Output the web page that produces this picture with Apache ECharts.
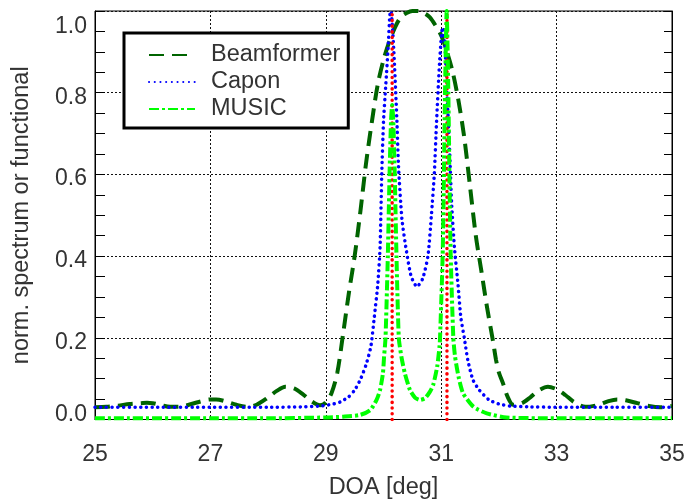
<!DOCTYPE html>
<html>
<head>
<meta charset="utf-8">
<script src="https://cdn.jsdelivr.net/npm/echarts@6/dist/echarts.min.js"></script>
<style>
  html, body { margin: 0; padding: 0; background: #fff; }
  #chart { width: 686px; height: 499px; }
</style>
</head>
<body>
<div id="chart"></div>
<script>
// Normalised spatial spectra of three DOA estimators, plus the true source directions.

const bfDoa = [25.0, 25.2, 25.4, 25.6, 25.8, 25.9, 26.0, 26.15, 26.3, 26.45, 26.6, 26.8, 27.0, 27.1, 27.25, 27.45, 27.63, 27.8, 28.0, 28.15, 28.3, 28.45, 28.6, 28.75, 28.9,
  29.0, 29.1, 29.2, 29.3, 29.4, 29.5, 29.6, 29.7, 29.8, 29.9, 30.0, 30.1, 30.2, 30.3, 30.4, 30.5, 30.6, 30.7, 30.8, 30.9, 31.0, 31.1, 31.2, 31.3, 31.4, 31.5, 31.6, 31.7, 31.8, 31.9, 31.95, 32.0, 32.07, 32.15, 32.25,
  32.4, 32.55, 32.7, 32.85, 33.0, 33.15, 33.3, 33.5, 33.7, 33.9, 34.05, 34.2, 34.4, 34.6, 34.8, 35.0];
const bfVal = [0.030, 0.031, 0.034, 0.038, 0.040, 0.041, 0.040, 0.035, 0.031, 0.031, 0.035, 0.043, 0.049, 0.049, 0.045, 0.036, 0.031, 0.036, 0.054, 0.070, 0.080, 0.076, 0.062, 0.045, 0.035,
  0.042, 0.065, 0.115, 0.21, 0.31, 0.40, 0.51, 0.63, 0.73, 0.82, 0.88, 0.925, 0.96, 0.985, 0.995, 1.0, 1.0, 0.995, 0.985, 0.965, 0.94, 0.90, 0.85, 0.78, 0.69, 0.57, 0.45, 0.36, 0.27, 0.19, 0.146, 0.115, 0.089, 0.056, 0.036,
  0.040, 0.055, 0.072, 0.080, 0.074, 0.060, 0.043, 0.031, 0.035, 0.045, 0.049, 0.047, 0.040, 0.033, 0.030, 0.033];

const caponDoa = [25.0, 26.0, 27.0, 28.0, 28.6, 28.9, 29.1, 29.25, 29.4, 29.5, 29.6, 29.7, 29.78, 29.84, 29.9, 29.94, 29.97, 30.0, 30.04, 30.08, 30.11, 30.13, 30.15, 30.18, 30.23, 30.26, 30.32, 30.4, 30.48, 30.58, 30.68, 30.77, 30.83, 30.88, 30.92, 30.97, 31.01, 31.03, 31.06, 31.1, 31.14, 31.18, 31.23, 31.29, 31.34, 31.4, 31.46, 31.55, 31.66, 31.83, 32.0, 32.2, 32.5, 33.0, 34.0, 35.0];
const caponVal = [0.030, 0.030, 0.030, 0.030, 0.031, 0.033, 0.037, 0.043, 0.056, 0.072, 0.098, 0.135, 0.178, 0.25, 0.33, 0.42, 0.60, 0.73, 0.82, 0.91, 0.99, 1.0, 0.97, 0.90, 0.74, 0.62, 0.49, 0.41, 0.35, 0.325, 0.345, 0.40, 0.50, 0.60, 0.73, 0.87, 0.95, 0.96, 0.93, 0.80, 0.68, 0.53, 0.42, 0.333, 0.25, 0.20, 0.146, 0.097, 0.072, 0.048, 0.038, 0.033, 0.031, 0.030, 0.030, 0.030];

const musicDoa = [25.0, 27.0, 28.0, 29.0, 29.3, 29.59, 29.77, 29.88, 29.94, 29.99, 30.01, 30.035, 30.075, 30.105, 30.13, 30.15, 30.17, 30.195, 30.225, 30.265, 30.31, 30.37, 30.46, 30.55, 30.63, 30.72, 30.8, 30.86, 30.93, 30.97, 30.98, 31.025, 31.048, 31.066, 31.095, 31.124, 31.142, 31.165, 31.21, 31.24, 31.3, 31.38, 31.56, 31.79, 32.13, 33.0, 34.0, 35.0];
const musicVal = [0.003, 0.003, 0.003, 0.005, 0.007, 0.011, 0.023, 0.048, 0.072, 0.113, 0.154, 0.2, 0.4, 0.6, 0.73, 0.77, 0.73, 0.6, 0.4, 0.2, 0.154, 0.113, 0.072, 0.053, 0.048, 0.052, 0.067, 0.084, 0.129, 0.178, 0.2, 0.4, 0.6, 0.8, 1.0, 0.8, 0.6, 0.4, 0.2, 0.154, 0.105, 0.064, 0.031, 0.015, 0.005, 0.003, 0.003, 0.003];

// True directions of arrival (deg)
const trueDoa = [30.15, 31.10];

const xTicks = [25, 27, 29, 31, 33, 35];
const yTicks = [0.0, 0.2, 0.4, 0.6, 0.8, 1.0];

const FONT = '"Liberation Sans", Arial, Helvetica, sans-serif';
const TXT = '#333';
const FS = 23.5;

const pairs = (xs, ys) => xs.map((x, i) => [x, ys[i]]);

const trueSeries = trueDoa.map((d, i) => ({
  name: 'true' + i,
  type: 'line',
  data: [[d, yTicks[0]], [d, yTicks[yTicks.length - 1]]],
  symbol: 'none',
  silent: true,
  z: 3,
  lineStyle: { color: '#ff0000', width: 3.5, type: [0.1, 5.6], cap: 'round' }
}));

const chart = echarts.init(document.getElementById('chart'), null, { renderer: 'canvas' });
chart.setOption({
  animation: false,
  backgroundColor: '#fff',
  grid: {
    left: 95, right: 14, top: 11, bottom: 79.5,
    show: true, borderColor: '#000', borderWidth: 1,
    containLabel: false, outerBoundsMode: 'none'
  },
  legend: {
    data: ['Beamformer', 'Capon', 'MUSIC'],
    orient: 'vertical',
    left: 124, top: 33,
    padding: [10, 8, 7, 24],
    itemWidth: 46, itemHeight: 14, itemGap: 3,
    itemStyle: { opacity: 0 },
    borderColor: '#000', borderWidth: 3, borderRadius: 0,
    backgroundColor: '#fff',
    textStyle: { fontFamily: FONT, fontSize: FS, color: TXT, lineHeight: 22, padding: [0, 0, 0, 11] }
  },
  xAxis: {
    type: 'value', min: xTicks[0], max: xTicks[xTicks.length - 1], interval: 2,
    name: 'DOA [deg]', nameLocation: 'middle', nameGap: 56,
    nameTextStyle: { fontFamily: FONT, fontSize: FS, color: TXT },
    axisLine: { show: true, lineStyle: { color: '#000', width: 1 } },
    axisTick: { show: false },
    axisLabel: { fontFamily: FONT, fontSize: 23, color: TXT, margin: 24, formatter: v => String(v) },
    splitLine: { show: true, lineStyle: { color: '#111', width: 1, type: [2, 2] } }
  },
  yAxis: [
    {
      type: 'value', min: 0, max: 1, interval: 0.2, position: 'left',
      name: 'norm. spectrum or functional', nameLocation: 'middle', nameGap: 61,
      nameTextStyle: { fontFamily: FONT, fontSize: FS, color: TXT },
      axisLine: { show: true, lineStyle: { color: '#000', width: 1 } },
      axisTick: { show: true, inside: true, length: 10, lineStyle: { color: '#000' } },
      minorTick: { show: true, splitNumber: 4, length: 10, lineStyle: { color: '#000' } },
      axisLabel: {
        margin: 8, fontFamily: FONT, fontSize: 23, color: TXT,
        formatter: v => {
          const s = v.toFixed(1);
          if (Math.abs(v - 1) < 1e-9) return '{t|' + s + '}';
          if (Math.abs(v) < 1e-9) return '{b|' + s + '}';
          return '{m|' + s + '}';
        },
        rich: {
          t: { fontFamily: FONT, fontSize: 23, color: TXT, padding: [31, 0, 0, 0] },
          b: { fontFamily: FONT, fontSize: 23, color: TXT, padding: [0, 0, 9, 0] },
          m: { fontFamily: FONT, fontSize: 23, color: TXT, padding: [9, 0, 0, 0] }
        }
      },
      splitLine: { show: true, lineStyle: { color: '#111', width: 1, type: [2, 2] } }
    },
    {
      type: 'value', min: 0, max: 1, interval: 0.2, position: 'right',
      axisLine: { show: true, lineStyle: { color: '#000', width: 1 } },
      axisTick: { show: true, inside: true, length: 8, lineStyle: { color: '#000' } },
      minorTick: { show: true, splitNumber: 4, length: 8, lineStyle: { color: '#000' } },
      axisLabel: { show: false },
      splitLine: { show: false }
    }
  ],
  series: [
    {
      name: 'Beamformer', type: 'line', data: pairs(bfDoa, bfVal), symbol: 'none', smooth: 0.3, z: 2,
      lineStyle: { color: '#006400', width: 4, type: [15, 8] },
      itemStyle: { color: '#006400' }
    },
    {
      name: 'Capon', type: 'line', data: pairs(caponDoa, caponVal), symbol: 'none', smooth: 0.2, z: 2,
      lineStyle: { color: '#0000ff', width: 3.5, type: [0.1, 5.6], cap: 'round' },
      itemStyle: { color: '#0000ff' }
    },
    ...trueSeries,
    {
      name: 'MUSIC', type: 'line', data: pairs(musicDoa, musicVal), symbol: 'none', smooth: 0.2, z: 4,
      lineStyle: { color: '#00ff00', width: 4, type: [10, 3, 3, 3] },
      itemStyle: { color: '#00ff00' }
    }
  ]
});
</script>
</body>
</html>
